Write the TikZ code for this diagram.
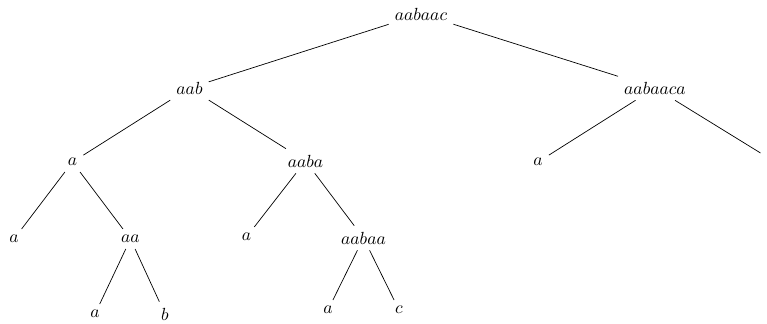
\documentclass[tikz,border=0pt]{standalone}
\usepackage{tikz}
\tikzset{>=stealth}
\tikzset{edge/.style={black}}

\begin{document}
\begin{tikzpicture}
    \useasboundingbox (0,0) rectangle (15.34,6.48);
    \node (aabaac) at (8.42,6.20) {$aabaac$};
    \node (aab) at (3.79,4.72) {$aab$};
    \node (aabaaca) at (13.10,4.72) {$aabaaca$};
    \node (aabA) at (1.45,3.24) {$a$};
    \node (aaba) at (6.11,3.26) {$aaba$};
    \node (aabaacaA) at (10.76,3.24) {$a$};
    \coordinate (aabaacaB) at (15.21,3.42);
    \node (aabAA) at (0.28,1.70) {$a$};
    \node (aa) at (2.61,1.70) {$aa$};
    \node (aabaA) at (4.93,1.74) {$a$};
    \node (aabaa) at (7.27,1.72) {$aabaa$};
    \node (aaA) at (1.90,0.20) {$a$};
    \node (aaB) at (3.30,0.20) {$b$};
    \node (aabaaA) at (6.56,0.28) {$a$};
    \node (aabaaC) at (7.98,0.28) {$c$};
    \draw [edge] (aabaac) -- (aab);
    \draw [edge] (aabaac) -- (aabaaca);
    \draw [edge] (aab) -- (aabA);
    \draw [edge] (aab) -- (aaba);
    \draw [edge] (aabaaca) -- (aabaacaA);
    \draw [edge] (aabaaca) -- (aabaacaB);
    \draw [edge] (aabA) -- (aabAA);
    \draw [edge] (aabA) -- (aa);
    \draw [edge] (aaba) -- (aabaA);
    \draw [edge] (aaba) -- (aabaa);
    \draw [edge] (aa) -- (aaA);
    \draw [edge] (aa) -- (aaB);
    \draw [edge] (aabaa) -- (aabaaA);
    \draw [edge] (aabaa) -- (aabaaC);
  \end{tikzpicture}
\end{document}
